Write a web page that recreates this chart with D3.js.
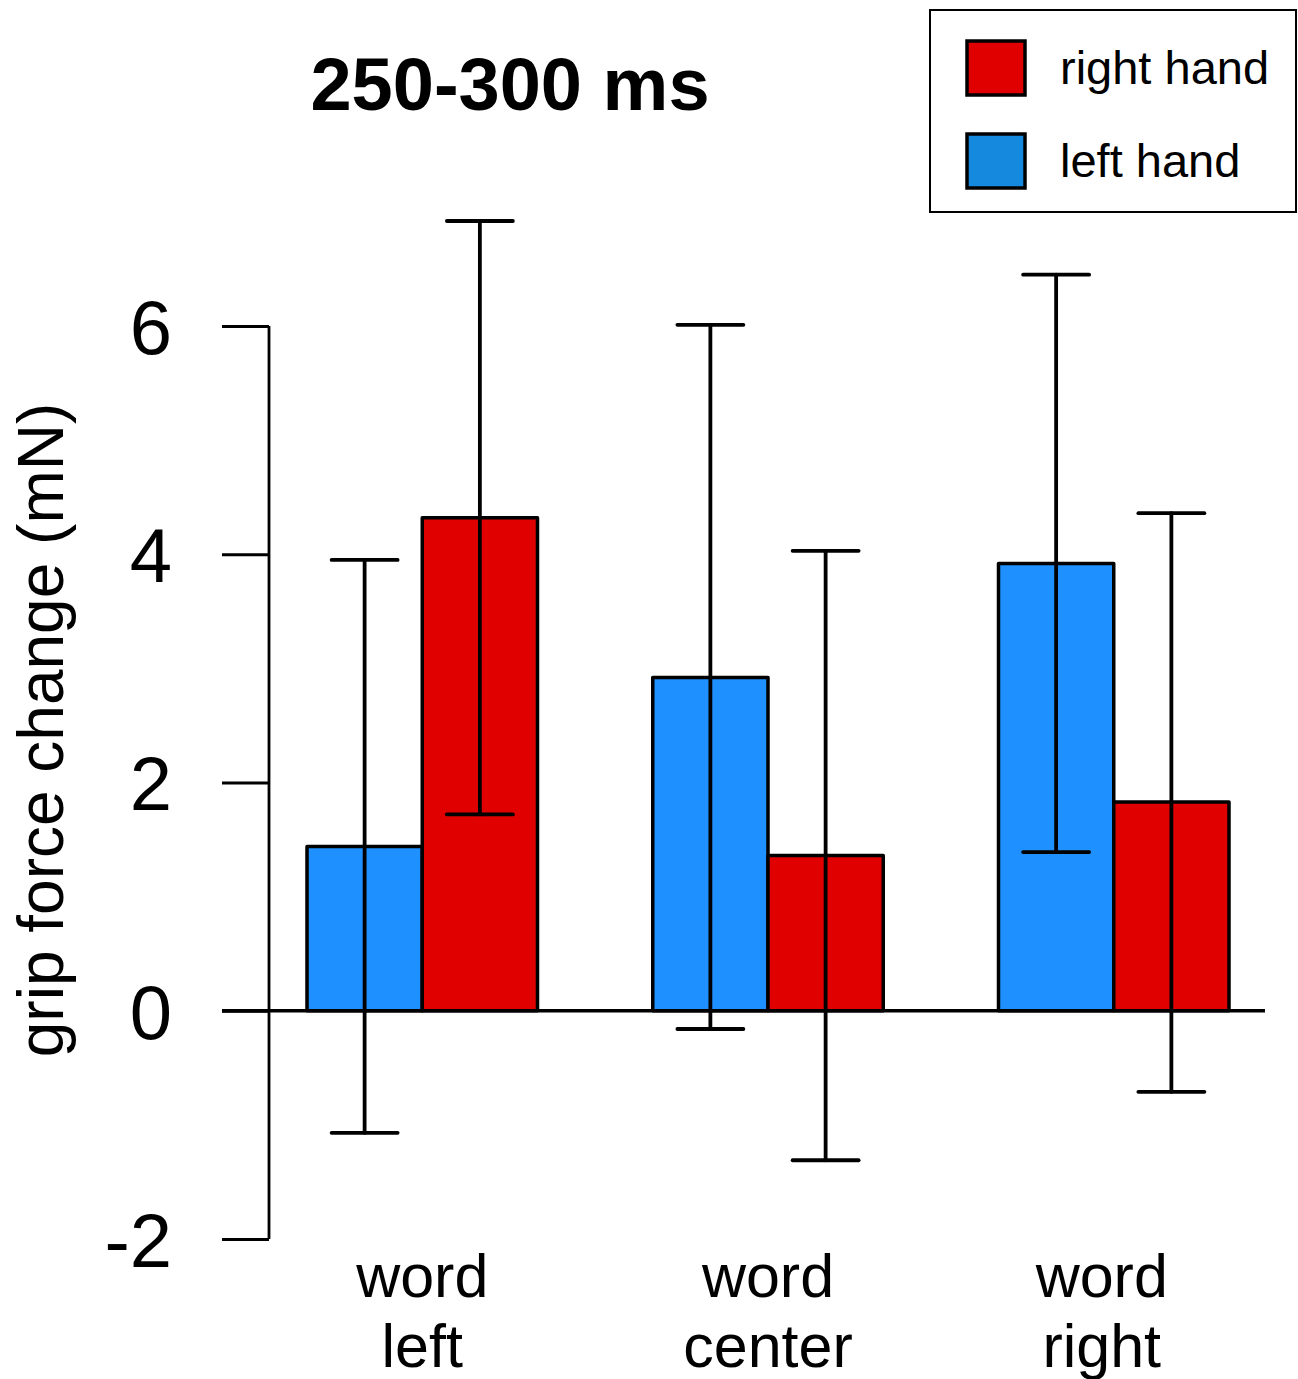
<!DOCTYPE html>
<html>
<head>
<meta charset="utf-8">
<script src="https://cdn.jsdelivr.net/npm/d3@7"></script>
<style>
    body { margin: 0; background: #fff; }
    svg text { font-family: "Liberation Sans", Arial, sans-serif; fill: #000; }
</style>
</head>
<body>
<svg width="1298" height="1379"></svg>
<script>
    // data
    var categories = [["word", "left"], ["word", "center"], ["word", "right"]];
    var hands = ["left hand", "right hand"];          // bar order inside a group
    var leftHand = [1.44, 2.92, 3.92];                 // blue bars
    var rightHand = [4.32, 1.36, 1.83];                // red bars
    var leftLow = [-1.07, -0.16, 1.39];
    var leftHigh = [3.95, 6.01, 6.45];
    var rightLow = [1.72, -1.31, -0.71];
    var rightHigh = [6.92, 4.03, 4.36];
    var yTicks = [-2, 0, 2, 4, 6];
    var title = "250-300 ms";
    var yLabel = "grip force change (mN)";
    var legendItems = [
        {name: "right hand", color: "#e00000"},
        {name: "left hand", color: "#1589de"}
    ];

    var colors = {"left hand": "#1e90ff", "right hand": "#e00000"};
    var labelNudge = [0, 0, -12]; // the last label sits a bit left of its group in the original

    var svg = d3.select("svg");

    var catKeys = categories.map(function (c) { return c.join(" "); });

    var x0 = d3.scaleBand()
        .domain(catKeys)
        .range([307, 1229])
        .paddingInner(1 / 3)
        .paddingOuter(0);

    var x1 = d3.scaleBand()
        .domain(hands)
        .range([0, x0.bandwidth()]);

    var y = d3.scaleLinear()
        .domain([-2, 6])
        .range([1239, 326]);

    // flat rows for bars and error bars
    var rows = [];
    catKeys.forEach(function (k, i) {
        rows.push({cat: k, hand: "left hand", v: leftHand[i], lo: leftLow[i], hi: leftHigh[i]});
        rows.push({cat: k, hand: "right hand", v: rightHand[i], lo: rightLow[i], hi: rightHigh[i]});
    });

    // y axis (R style: detached line with long ticks)
    var yAxis = svg.append("g")
        .attr("transform", "translate(269,0)")
        .call(d3.axisLeft(y).tickValues(yTicks).tickSize(47).tickPadding(50).tickFormat(d3.format("d")));
    yAxis.select(".domain")
        .attr("d", "M0," + y(6) + "V" + y(-2))
        .attr("stroke", "#000")
        .attr("stroke-width", 2.8);
    yAxis.selectAll(".tick line").attr("stroke", "#000").attr("stroke-width", 2.8);
    yAxis.selectAll(".tick text")
        .attr("font-size", 76)
        .attr("font-family", "Liberation Sans, Arial, sans-serif")
        .attr("dy", "0.36em")
        .text(function (d) { return d < 0 ? "-" + Math.abs(d) : d; });

    // bars
    svg.append("g").selectAll("rect")
        .data(rows)
        .join("rect")
        .attr("x", function (d) { return x0(d.cat) + x1(d.hand); })
        .attr("width", x1.bandwidth())
        .attr("y", function (d) { return y(Math.max(0, d.v)); })
        .attr("height", function (d) { return Math.abs(y(d.v) - y(0)); })
        .attr("fill", function (d) { return colors[d.hand]; })
        .attr("stroke", "#000")
        .attr("stroke-width", 3.5)
        .attr("stroke-linejoin", "round");

    // zero line
    svg.append("line")
        .attr("x1", 222).attr("x2", 1265)
        .attr("y1", y(0)).attr("y2", y(0))
        .attr("stroke", "#000")
        .attr("stroke-width", 3.5);

    // error bars
    var cap = 33;
    var eb = svg.append("g")
        .attr("stroke", "#000")
        .attr("stroke-width", 3.8)
        .attr("stroke-linecap", "round");
    rows.forEach(function (d) {
        var cx = x0(d.cat) + x1(d.hand) + x1.bandwidth() / 2;
        eb.append("line").attr("x1", cx).attr("x2", cx).attr("y1", y(d.lo)).attr("y2", y(d.hi));
        eb.append("line").attr("x1", cx - cap).attr("x2", cx + cap).attr("y1", y(d.hi)).attr("y2", y(d.hi));
        eb.append("line").attr("x1", cx - cap).attr("x2", cx + cap).attr("y1", y(d.lo)).attr("y2", y(d.lo));
    });

    // category labels, two lines each
    var catLabels = svg.append("g").selectAll("text")
        .data(categories)
        .join("text")
        .attr("text-anchor", "middle")
        .attr("font-size", 61)
        .attr("x", function (d, i) { return x0(catKeys[i]) + x0.bandwidth() / 2 + labelNudge[i]; })
        .attr("y", 1297);
    catLabels.each(function (d) {
        var t = d3.select(this);
        var cx = t.attr("x");
        d.forEach(function (line, j) {
            t.append("tspan").attr("x", cx).attr("y", 1297 + j * 70).text(line);
        });
    });

    // y label
    svg.append("text")
        .attr("transform", "translate(63,730) rotate(-90)")
        .attr("text-anchor", "middle")
        .attr("font-size", 64)
        .text(yLabel);

    // title
    svg.append("text")
        .attr("x", 510)
        .attr("y", 110)
        .attr("text-anchor", "middle")
        .attr("font-size", 74)
        .attr("font-weight", "bold")
        .text(title);

    // legend
    var legend = svg.append("g");
    legend.append("rect")
        .attr("x", 930).attr("y", 10)
        .attr("width", 366).attr("height", 202)
        .attr("fill", "#fff")
        .attr("stroke", "#000")
        .attr("stroke-width", 2);
    var li = legend.selectAll("g.item")
        .data(legendItems)
        .join("g")
        .attr("class", "item")
        .attr("transform", function (d, i) { return "translate(0," + (i * 93) + ")"; });
    li.append("rect")
        .attr("x", 967).attr("y", 41)
        .attr("width", 58).attr("height", 54)
        .attr("fill", function (d) { return d.color; })
        .attr("stroke", "#000")
        .attr("stroke-width", 3.5);
    li.append("text")
        .attr("x", 1060).attr("y", 84)
        .attr("font-size", 47)
        .text(function (d) { return d.name; });
</script>
</body>
</html>
